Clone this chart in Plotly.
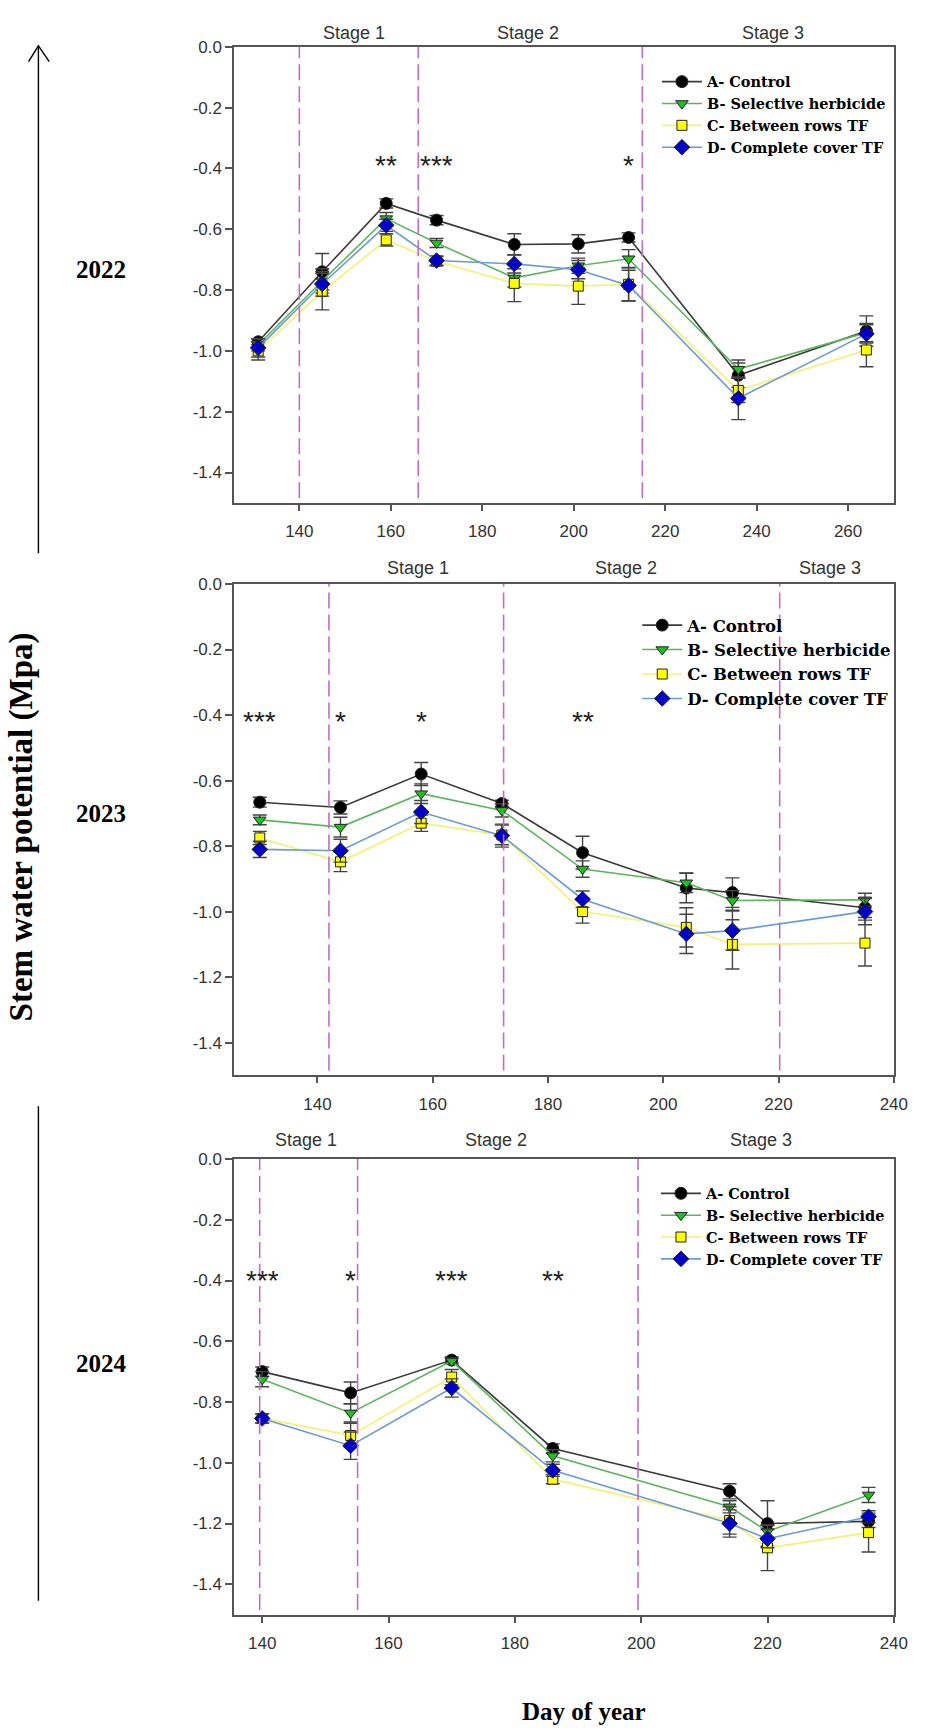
import plotly.graph_objects as go

# -- day of year of each sampling date
doy_2022 = [131, 145, 159, 170, 187, 201, 212, 236, 264]
doy_2023 = [130, 144, 158, 172, 186, 204, 212, 235]
doy_2024 = [140, 154, 170, 186, 214, 220, 236]

# -- stem water potential means (MPa), one list per treatment and year
swp_a_2022 = [-0.97, -0.74, -0.515, -0.57, -0.65, -0.648, -0.627, -1.08, -0.935]
swp_b_2022 = [-0.98, -0.77, -0.565, -0.645, -0.76, -0.72, -0.697, -1.06, -0.94]
swp_c_2022 = [-1.0, -0.805, -0.635, -0.705, -0.778, -0.787, -0.781, -1.13, -0.997]
swp_d_2022 = [-0.99, -0.78, -0.587, -0.703, -0.714, -0.733, -0.785, -1.156, -0.944]
err_a_2022 = [0.01, 0.06, 0.015, 0.015, 0.035, 0.03, 0.015, 0.04, 0.05]
err_b_2022 = [0.02, 0.04, 0.02, 0.015, 0.03, 0.025, 0.03, 0.03, 0.03]
err_c_2022 = [0.03, 0.06, 0.02, 0.015, 0.06, 0.06, 0.055, 0.04, 0.055]
err_d_2022 = [0.03, 0.04, 0.02, 0.015, 0.03, 0.03, 0.05, 0.07, 0.03]

swp_a_2023 = [-0.666, -0.682, -0.58, -0.67, -0.82, -0.928, -0.942, -0.988]
swp_b_2023 = [-0.72, -0.742, -0.64, -0.691, -0.87, -0.912, -0.966, -0.964]
swp_c_2023 = [-0.775, -0.848, -0.73, -0.766, -1.0, -1.048, -1.1, -1.096]
swp_d_2023 = [-0.81, -0.814, -0.696, -0.768, -0.962, -1.068, -1.058, -1.0]
err_a_2023 = [0.015, 0.02, 0.035, 0.01, 0.05, 0.045, 0.045, 0.03]
err_b_2023 = [0.015, 0.03, 0.03, 0.02, 0.025, 0.03, 0.03, 0.02]
err_c_2023 = [0.02, 0.03, 0.025, 0.03, 0.035, 0.06, 0.075, 0.07]
err_d_2023 = [0.025, 0.035, 0.035, 0.035, 0.025, 0.06, 0.06, 0.04]

swp_a_2024 = [-0.70, -0.77, -0.662, -0.953, -1.094, -1.20, -1.193]
swp_b_2024 = [-0.725, -0.836, -0.665, -0.977, -1.145, -1.226, -1.106]
swp_c_2024 = [-0.854, -0.91, -0.718, -1.054, -1.19, -1.28, -1.23]
swp_d_2024 = [-0.854, -0.944, -0.754, -1.025, -1.20, -1.25, -1.178]
err_a_2024 = [0.015, 0.036, 0.01, 0.015, 0.025, 0.075, 0.02]
err_b_2024 = [0.025, 0.03, 0.01, 0.02, 0.02, 0.02, 0.025]
err_c_2024 = [0.015, 0.04, 0.025, 0.015, 0.045, 0.075, 0.064]
err_d_2024 = [0.015, 0.045, 0.03, 0.02, 0.045, 0.03, 0.02]

# -- phenological stage limits and labels
breaks_2022 = [140, 166, 215]
breaks_2023 = [142, 172.3, 220.2]
breaks_2024 = [139.6, 155.1, 199.5]
stage_x_2022 = [152, 190, 243.5]
stage_x_2023 = [157.5, 193.5, 229]
stage_x_2024 = [147, 177, 219]
stage_names = ['Stage 1', 'Stage 2', 'Stage 3']

# -- significance marks
star_x_2022 = [159, 170, 212]
star_t_2022 = ['**', '***', '*']
star_x_2023 = [130, 144, 158, 186]
star_t_2023 = ['***', '*', '*', '**']
star_x_2024 = [140, 154, 170, 186]
star_t_2024 = ['***', '*', '***', '**']
star_level = [-0.39, -0.42, -0.40]

# -- axis ticks
y_tick_vals = [0.0, -0.2, -0.4, -0.6, -0.8, -1.0, -1.2, -1.4]
y_tick_text = ['0.0', '-0.2', '-0.4', '-0.6', '-0.8', '-1.0', '-1.2', '-1.4']

years = ['2022', '2023', '2024']
treatments = ['A- Control', 'B- Selective herbicide', 'C- Between rows TF', 'D- Complete cover TF']

W, H = 929, 1734

def px(x):
    return x / W

def py(y):
    return 1 - y / H

# -- trace styles: (line colour, marker colour, symbol, size)
styles = [
    ('#3a3a3a', '#000000', 'circle', 12),
    ('#5fb35f', '#1fbf1f', 'triangle-down', 11),
    ('#f2f275', '#ffff00', 'square', 10),
    ('#6b9bd0', '#0000c8', 'diamond', 12),
]

panels = [
    (doy_2022, [swp_a_2022, swp_b_2022, swp_c_2022, swp_d_2022],
     [err_a_2022, err_b_2022, err_c_2022, err_d_2022]),
    (doy_2023, [swp_a_2023, swp_b_2023, swp_c_2023, swp_d_2023],
     [err_a_2023, err_b_2023, err_c_2023, err_d_2023]),
    (doy_2024, [swp_a_2024, swp_b_2024, swp_c_2024, swp_d_2024],
     [err_a_2024, err_b_2024, err_c_2024, err_d_2024]),
]

fig = go.Figure()

for i, (doy, means, errs) in enumerate(panels):
    sfx = '' if i == 0 else str(i + 1)
    for k in range(4):
        lc, mc, sym, size = styles[k]
        fig.add_trace(go.Scatter(
            x=doy, y=means[k], name=treatments[k], mode='lines+markers',
            line=dict(color=lc, width=1.6),
            marker=dict(symbol=sym, size=size, color=mc, line=dict(color='#222', width=1)),
            error_y=dict(type='data', array=errs[k], color='#444', thickness=1.4, width=7),
            xaxis='x' + sfx, yaxis='y' + sfx, legend='legend' + sfx,
        ))

# -- axes
ydoms = [(py(496.5), py(38)), (py(1072), py(578)), (py(1614), py(1156))]
xranges = [[125.8, 270], [125.6, 240], [135.6, 240]]
tickfont = dict(family='Liberation Sans, Arial', size=17, color='#333')
for i in range(3):
    sfx = '' if i == 0 else str(i + 1)
    fig.layout['xaxis' + sfx] = dict(
        domain=[px(238), px(907.5)], range=xranges[i], anchor='y' + sfx,
        showline=True, linecolor='#555', linewidth=2, mirror=True,
        ticks='outside', ticklen=6, tickwidth=1.5, tickcolor='#555',
        dtick=20, tick0=140, showgrid=False, zeroline=False,
        tickfont=tickfont, ticklabelstandoff=6,
    )
    fig.layout['yaxis' + sfx] = dict(
        domain=list(ydoms[i]), range=[-1.5, 0], anchor='x' + sfx,
        showline=True, linecolor='#555', linewidth=2, mirror=True,
        ticks='outside', ticklen=7, tickwidth=1.5, tickcolor='#555',
        tickvals=y_tick_vals, ticktext=y_tick_text, showgrid=False, zeroline=False,
        tickfont=tickfont,
    )

# -- stage limits
shapes = []
all_breaks = [breaks_2022, breaks_2023, breaks_2024]
for i, brk in enumerate(all_breaks):
    sfx = '' if i == 0 else str(i + 1)
    for b in brk:
        shapes.append(dict(type='line', xref='x' + sfx, yref='y' + sfx + ' domain',
                           x0=b, x1=b, y0=0.01, y1=1,
                           line=dict(color='#c46cc4', width=1.6, dash='16px,6px')))

# -- arrow on the left
shapes.append(dict(type='line', xref='paper', yref='paper', x0=px(39), x1=px(39),
                   y0=py(547), y1=py(37), line=dict(color='black', width=1.4)))
shapes.append(dict(type='path', xref='paper', yref='paper',
                   path='M %f,%f L %f,%f L %f,%f' % (px(29), py(53), px(39), py(37), px(50), py(53)),
                   line=dict(color='black', width=1.4)))
shapes.append(dict(type='line', xref='paper', yref='paper', x0=px(39), x1=px(39),
                   y0=py(1600), y1=py(1103), line=dict(color='black', width=1.4)))

annotations = []
stage_y = [py(24), py(562), py(1137)]
all_stage_x = [stage_x_2022, stage_x_2023, stage_x_2024]
all_star_x = [star_x_2022, star_x_2023, star_x_2024]
all_star_t = [star_t_2022, star_t_2023, star_t_2024]
for i in range(3):
    sfx = '' if i == 0 else str(i + 1)
    for sx, name in zip(all_stage_x[i], stage_names):
        annotations.append(dict(x=sx, y=stage_y[i], xref='x' + sfx, yref='paper', text=name,
                                xanchor='center', yanchor='middle', showarrow=False,
                                font=dict(family='Liberation Sans, Arial', size=18, color='#333')))
    for sx, t in zip(all_star_x[i], all_star_t[i]):
        annotations.append(dict(x=sx, y=star_level[i], xref='x' + sfx, yref='y' + sfx, text=t,
                                xanchor='center', yanchor='middle', showarrow=False,
                                font=dict(family='Liberation Sans, Arial', size=28, color='#222')))

serif_bold = dict(family='Liberation Serif, Times New Roman', color='black', weight='bold')
for yr, yy in zip(years, [262, 809, 1362]):
    annotations.append(dict(x=px(103), y=py(yy), xref='paper', yref='paper', text=yr,
                            xanchor='center', yanchor='middle', showarrow=False,
                            font=dict(size=25, **serif_bold)))
annotations.append(dict(x=px(22), y=py(822), xref='paper', yref='paper', textangle=-90,
                        text='Stem water potential (Mpa)', xanchor='center', yanchor='middle',
                        showarrow=False, font=dict(size=33, **serif_bold)))
annotations.append(dict(x=px(593), y=py(1711), xref='paper', yref='paper', text='Day of year',
                        xanchor='center', yanchor='middle', showarrow=False,
                        font=dict(size=25, **serif_bold)))

leg_font = dict(family='DejaVu Serif', color='black', weight='bold')
legend_style = dict(bgcolor='rgba(0,0,0,0)', xanchor='left', yanchor='top', tracegroupgap=0,
                    itemwidth=40)
fig.update_layout(
    width=W, height=H, margin=dict(l=0, r=0, t=0, b=0),
    paper_bgcolor='white', plot_bgcolor='white',
    shapes=shapes, annotations=annotations,
    legend=dict(x=px(667), y=py(57), font=dict(size=14.5, **leg_font), **legend_style),
    legend2=dict(x=px(647), y=py(602), font=dict(size=16.5, **leg_font), **legend_style),
    legend3=dict(x=px(666), y=py(1174.5), font=dict(size=14.5, **leg_font), **legend_style),
)

fig.write_html('out.html', config={'displayModeBar': False},
               post_script="document.body.style.margin='0';")
